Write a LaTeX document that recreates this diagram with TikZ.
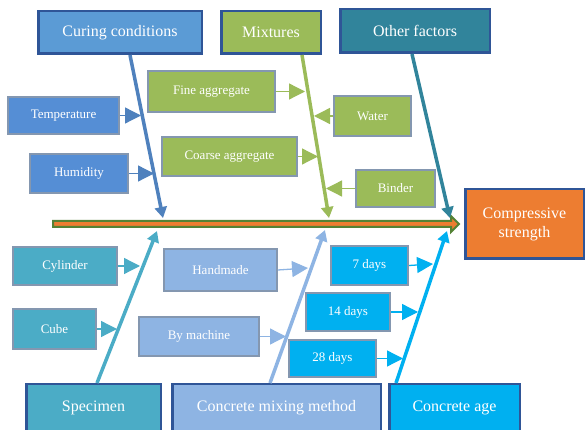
\documentclass[tikz,border=0pt]{standalone}
\usepackage{fontspec}
\setmainfont{Liberation Serif}
\usetikzlibrary{arrows.meta,calc}
\definecolor{CuringBlue}{HTML}{5B9BD5}
\definecolor{CuringLine}{HTML}{4F81BD}
\definecolor{TempBlue}{HTML}{558ED5}
\definecolor{MixGreen}{HTML}{9BBB59}
\definecolor{OtherTeal}{HTML}{31849B}
\definecolor{SpecTeal}{HTML}{4BACC6}
\definecolor{MethodBlue}{HTML}{8EB4E3}
\definecolor{AgeCyan}{HTML}{00B0F0}
\definecolor{StrengthOrange}{HTML}{ED7D31}
\definecolor{FrameBlue}{HTML}{2F5597}
\definecolor{FrameGray}{HTML}{8497B0}
\definecolor{SpineGreen}{HTML}{548235}

\tikzset{
  boxsize/.style 2 args={minimum width=#1pt, minimum height=#2pt},
  catbox/.style={draw=FrameBlue, line width=2.5pt, text=white, inner sep=0pt,
    align=center, font=\fontsize{16}{19}\selectfont},
  factorbox/.style={draw=FrameGray, line width=2.2pt, text=white, inner sep=0pt,
    font=\fontsize{13}{15}\selectfont},
  branch/.style={line width=3.5pt, -{Triangle[length=11pt,width=12pt]}},
  feed/.style={line width=1.3pt, -{Triangle[length=16pt,width=16pt]}},
  spine/.style={draw=SpineGreen, fill=StrengthOrange, line width=2pt},
}

\begin{document}
\begin{tikzpicture}[x=1pt, y=-1pt]
  \useasboundingbox (0,0) rectangle (587,430);
  \clip (0,0) rectangle (587,430);

  % main categories
  \node[catbox, fill=CuringBlue, boxsize={163.5}{42.5}] (cure) at (120,32.5) {Curing conditions};
  \node[catbox, fill=MixGreen, boxsize={99.5}{42.5}] (mix) at (271,32.5) {Mixtures};
  \node[catbox, fill=OtherTeal, boxsize={149.5}{43.5}] (other) at (415,31) {Other factors};
  \node[catbox, fill=StrengthOrange, boxsize={118.5}{69.5}] (cs) at (524.5,224) {Compressive\\strength};
  \node[catbox, fill=SpecTeal, boxsize={134.5}{47.5}] (spec) at (93.5,408) {Specimen};
  \node[catbox, fill=MethodBlue, boxsize={208.5}{47.5}] (method) at (276.5,408) {Concrete mixing method};
  \node[catbox, fill=AgeCyan, boxsize={130.5}{47.5}] (age) at (454.5,408) {Concrete age};

  % factors
  \node[factorbox, fill=TempBlue, boxsize={110.8}{36.8}] (temp) at (63.5,115.5) {Temperature};
  \node[factorbox, fill=TempBlue, boxsize={97.8}{38.8}] (hum) at (79,173.5) {Humidity};
  \node[factorbox, fill=MixGreen, boxsize={126.8}{40.8}] (fine) at (211.5,91.5) {Fine aggregate};
  \node[factorbox, fill=MixGreen, boxsize={134.8}{38.8}] (coarse) at (229.5,156.5) {Coarse aggregate};
  \node[factorbox, fill=MixGreen, boxsize={76.8}{39.8}] (water) at (372.5,116) {Water};
  \node[factorbox, fill=MixGreen, boxsize={78.8}{36.8}] (binder) at (395.5,188.5) {Binder};
  \node[factorbox, fill=SpecTeal, boxsize={103.8}{37.8}] (cyl) at (65,266) {Cylinder};
  \node[factorbox, fill=SpecTeal, boxsize={82.8}{39.8}] (cube) at (54.5,329) {Cube};
  \node[factorbox, fill=MethodBlue, boxsize={112.8}{41.8}] (hand) at (220.5,270) {Handmade};
  \node[factorbox, fill=MethodBlue, boxsize={119.8}{38.8}] (mach) at (199,336.5) {By machine};
  \node[factorbox, fill=AgeCyan, boxsize={76.8}{38.8}] (d7) at (369.5,265.5) {7 days};
  \node[factorbox, fill=AgeCyan, boxsize={83.8}{37.8}] (d14) at (348,312) {14 days};
  \node[factorbox, fill=AgeCyan, boxsize={86.8}{36.8}] (d28) at (332.5,358.5) {28 days};

  % spine
  \coordinate (spineStart) at (53,224);
  \filldraw[spine] ([yshift=-3pt]spineStart) -- ([xshift=-13pt,yshift=-3pt]cs.west)
    -- ([xshift=-13pt,yshift=-8pt]cs.west) -- ([xshift=-5pt]cs.west)
    -- ([xshift=-13pt,yshift=8pt]cs.west) -- ([xshift=-13pt,yshift=3pt]cs.west)
    -- ([yshift=3pt]spineStart) -- cycle;

  % branch ends on the spine
  \coordinate (cureEnd) at (163,218);
  \coordinate (mixEnd) at (329,218);
  \coordinate (otherEnd) at (450,218);
  \coordinate (specEnd) at (157,231);
  \coordinate (methodEnd) at (325,230);
  \coordinate (ageEnd) at (447,231);
  \draw[branch, CuringLine] ([xshift=10pt]cure.south) -- (cureEnd);
  \draw[branch, MixGreen] ([xshift=31pt]mix.south) -- (mixEnd);
  \draw[branch, OtherTeal] ([xshift=-3pt]other.south) -- (otherEnd);
  \draw[branch, SpecTeal] ([xshift=3.5pt]spec.north) -- (specEnd);
  \draw[branch, MethodBlue] ([xshift=-6.5pt]method.north) -- (methodEnd);
  \draw[branch, AgeCyan] ([xshift=-58.5pt]age.north) -- (ageEnd);

  % factor arrows onto the branches
  \coordinate (tempTip) at (141,115.5);
  \coordinate (humTip) at (154,173.5);
  \coordinate (fineTip) at (305,91.5);
  \coordinate (coarseTip) at (318,156.5);
  \coordinate (waterTip) at (314,116);
  \coordinate (binderTip) at (326,188.5);
  \coordinate (cylTip) at (140,266);
  \coordinate (cubeTip) at (117,329);
  \coordinate (handTip) at (308,268);
  \coordinate (machTip) at (286,336.5);
  \coordinate (d7Tip) at (433,264);
  \coordinate (d14Tip) at (418,312);
  \coordinate (d28Tip) at (403,358.5);
  \draw[feed, CuringLine] (temp.east) -- (tempTip);
  \draw[feed, CuringLine] (hum.east) -- (humTip);
  \draw[feed, MixGreen] (fine.east) -- (fineTip);
  \draw[feed, MixGreen] (coarse.east) -- (coarseTip);
  \draw[feed, MixGreen] (water.west) -- (waterTip);
  \draw[feed, MixGreen] (binder.west) -- (binderTip);
  \draw[feed, SpecTeal] (cyl.east) -- (cylTip);
  \draw[feed, SpecTeal] (cube.east) -- (cubeTip);
  \draw[feed, MethodBlue] (hand.east) -- (handTip);
  \draw[feed, MethodBlue] (mach.east) -- (machTip);
  \draw[feed, AgeCyan] (d7.east) -- (d7Tip);
  \draw[feed, AgeCyan] (d14.east) -- (d14Tip);
  \draw[feed, AgeCyan] (d28.east) -- (d28Tip);
\end{tikzpicture}
\end{document}
